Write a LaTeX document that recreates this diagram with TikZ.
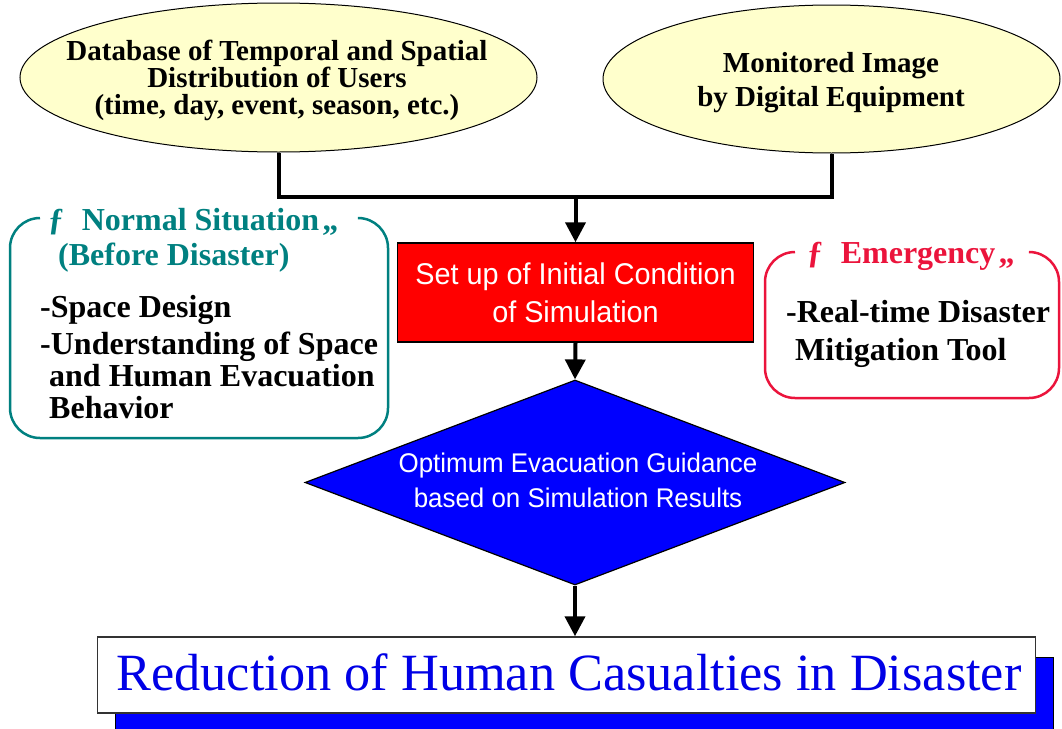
\documentclass[tikz,border=0pt]{standalone}
\usepackage{fontspec}
\setmainfont{Liberation Serif}
\newfontfamily\narrowsans[FakeStretch=0.96]{Liberation Sans}
\usetikzlibrary{shapes.geometric,arrows.meta}
\definecolor{paleyellow}{RGB}{255,255,204}
\definecolor{tealc}{RGB}{0,128,128}
\definecolor{emred}{RGB}{235,20,60}
\definecolor{boxblue}{RGB}{0,0,255}
\definecolor{txtblue}{RGB}{0,0,230}
\begin{document}
\begin{tikzpicture}[x=1pt,y=-1pt,
  ell/.style={ellipse,draw=black,line width=1pt,fill=paleyellow,inner sep=0pt},
  elltext/.style={font=\bfseries\fontsize{29}{27}\selectfont,align=center,inner sep=0pt},
  conn/.style={line width=4pt},
  arr/.style={line width=4pt,-{Triangle[width=20pt,length=20pt]}},
  procbox/.style={rectangle,draw=black,line width=1.5pt,fill=red,inner sep=0pt},
  proctext/.style={font=\narrowsans\fontsize{30}{38}\selectfont,text=white,align=center,inner sep=0pt},
  decbox/.style={diamond,draw=black,line width=1.2pt,fill=boxblue,inner sep=0pt,aspect=2.634},
  dectext/.style={font=\narrowsans\fontsize{27}{35}\selectfont,text=white,align=center,inner sep=0pt},
  resbox/.style={rectangle,draw=black!80,line width=1.5pt,fill=white,inner sep=0pt},
  restext/.style={font=\fontsize{52.3}{56}\selectfont,text=txtblue,inner sep=0pt},
  framepath/.style={line width=2.5pt,rounded corners=30pt},
  ttl/.style={font=\bfseries\fontsize{32}{35}\selectfont,anchor=base west,inner sep=0pt},
  body/.style={font=\bfseries\fontsize{32}{35}\selectfont,anchor=base west,inner sep=0pt,text=black}
]
\useasboundingbox (0,0) rectangle (1062,728);

% source ellipses
\node[ell,minimum width=517pt,minimum height=149pt] (db) at (278.5,77.5) {};
\node[elltext] (dbtext) at (277,80) {Database of Temporal and Spatial\\Distribution of Users\\(time, day, event, season, etc.)};
\node[ell,minimum width=457pt,minimum height=148pt] (mon) at (831.5,79) {};
\node[elltext,font=\bfseries\fontsize{29}{34}\selectfont] (montext) at (831,83) {Monitored Image\\by Digital Equipment};

% process
\node[procbox,minimum width=356pt,minimum height=99pt] (setup) at (575.5,292.5) {};
\node[proctext] (setuptext) at (575.5,293) {Set up of Initial Condition\\of Simulation};

% decision
\node[decbox,minimum width=540pt,minimum height=205pt] (guide) at (575,482.5) {};
\node[dectext] (guidetext) at (578,480) {Optimum Evacuation Guidance\\based on Simulation Results};

% result with shadow
\fill[boxblue,draw=black,line width=0.8pt] (115,657) rectangle (1053,733);
\node[resbox,minimum width=938pt,minimum height=76pt] (result) at (566.5,675) {};
\node[restext] (resulttext) at (569,672) {Reduction of Human Casualties in Disaster};

% connectors
\draw[conn] (db.south) -- ++(0,44) coordinate (jl) -| (mon.south);
\coordinate (j) at (setup.north |- jl);
\draw[arr] (j) -- (setup.north);
\draw[arr] (setup.south) -- (guide.north);
\draw[arr] (guide.south) -- (guide.south |- result.north);

% normal situation frame
\draw[framepath,draw=tealc] (40,218) -- (10,218) -- (10,438) -- (388,438) -- (388,218) -- (360,218);
\node[ttl,text=tealc] (normt1) at (48,230) {ƒ\hspace{0.55em}Normal Situation\hspace{0.1em}„};
\node[ttl,text=tealc] (normt2) at (58,265) {(Before Disaster)};
\node[body] (norm1) at (40,317) {-Space Design};
\node[body] (norm2) at (40,354) {-Understanding of Space};
\node[body] (norm3) at (49,386) {and Human Evacuation};
\node[body] (norm4) at (49,418) {Behavior};

% emergency frame
\draw[framepath,draw=emred] (795,252) -- (765,252) -- (765,398) -- (1059,398) -- (1059,252) -- (1031,252);
\node[ttl,text=emred] (emt) at (807,263) {ƒ\hspace{0.55em}Emergency\hspace{0.1em}„};
\node[body] (em1) at (786,322) {-Real-time Disaster};
\node[body] (em2) at (795,360) {Mitigation Tool};
\end{tikzpicture}
\end{document}
